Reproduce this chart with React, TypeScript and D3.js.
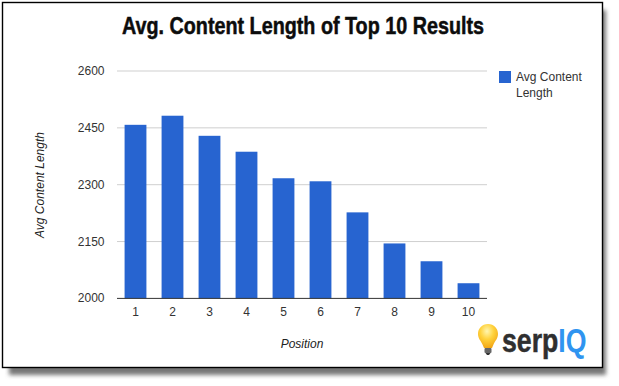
import React from "react";
import * as d3 from "d3";

const positions = ["1", "2", "3", "4", "5", "6", "7", "8", "9", "10"];
const avgContentLength = [2458, 2482, 2429, 2387, 2317, 2309, 2227, 2145, 2098, 2040];
const yTicks = [2000, 2150, 2300, 2450, 2600];
const titleText = "Avg. Content Length of Top 10 Results";
const legendLines = ["Avg Content", "Length"];

const W = 619;
const H = 386;
const BLUE = "#2764d0";
const SANS = "Arial, 'Liberation Sans', Helvetica, sans-serif";
const NARROW = "'Liberation Sans Narrow', 'Liberation Sans', sans-serif";

export default function App() {
  const x = d3.scaleBand<string>().domain(positions).range([117, 487]).paddingInner(0.41).paddingOuter(0.205);
  const y = d3.scaleLinear().domain([2000, 2600]).range([298.4, 71]);

  return (
    <svg width={W} height={H} viewBox={`0 0 ${W} ${H}`} style={{ position: "absolute", left: 0, top: 0, background: "#fff" }}>
      <defs>
        <filter id="sh" x="-5%" y="-5%" width="110%" height="110%">
          <feGaussianBlur stdDeviation="2.2" />
        </filter>
        <radialGradient id="bulb" cx="0.45" cy="0.3" r="0.75">
          <stop offset="0" stopColor="#fff6b0" />
          <stop offset="0.45" stopColor="#ffd23c" />
          <stop offset="1" stopColor="#f0a010" />
        </radialGradient>
      </defs>

      <rect x={9} y={10} width={597} height={365} fill="#777" filter="url(#sh)" />
      <rect x={2.5} y={2.5} width={600} height={365} fill="#fff" stroke="#000" strokeWidth={1.4} />

      <text x={303} y={33.5} textAnchor="middle" fontFamily={NARROW} fontWeight={700} fontSize={24} fill="#0c0c0c" stroke="#0c0c0c" strokeWidth={0.5} textLength={362} lengthAdjust="spacingAndGlyphs">
        {titleText}
      </text>

      {yTicks.filter((t) => t !== 2000).map((t) => (
        <line key={t} x1={117} x2={487} y1={y(t)} y2={y(t)} stroke="#cfcfcf" strokeWidth={1} />
      ))}
      {yTicks.map((t) => (
        <text key={t} x={104.5} y={y(t) + 4} textAnchor="end" fontFamily={SANS} fontSize={12} fill="#333">
          {t}
        </text>
      ))}

      {positions.map((p, i) => (
        <rect key={p} x={x(p)} y={y(avgContentLength[i])} width={x.bandwidth()} height={y(2000) - y(avgContentLength[i])} fill={BLUE} />
      ))}
      <line x1={117} x2={487} y1={y(2000)} y2={y(2000)} stroke="#333" strokeWidth={1} />

      {positions.map((p) => (
        <text key={p} x={(x(p) as number) + x.bandwidth() / 2} y={316} textAnchor="middle" fontFamily={SANS} fontSize={12} fill="#333">
          {p}
        </text>
      ))}

      <text x={302} y={348} textAnchor="middle" fontFamily={SANS} fontSize={12} fontStyle="italic" fill="#222">
        Position
      </text>
      <text transform="translate(44,185) rotate(-90)" textAnchor="middle" fontFamily={SANS} fontSize={12} fontStyle="italic" fill="#222">
        Avg Content Length
      </text>

      <rect x={499} y={71} width={12} height={12} fill={BLUE} />
      {legendLines.map((l, i) => (
        <text key={l} x={516} y={81 + i * 16} fontFamily={SANS} fontSize={12} fill="#333">
          {l}
        </text>
      ))}

      <g>
        <path d="M488 324 C482 324 478 328.5 478 334 C478 338.5 481 341 482.5 344.5 L484 348 L492 348 L493.5 344.5 C495 341 498 338.5 498 334 C498 328.5 494 324 488 324 Z" fill="url(#bulb)" />
        <rect x={484.5} y={348} width={7} height={5} rx={1} fill="#666" />
        <path d="M485.5 353 h5 l-1.5 2 h-2 Z" fill="#333" />
        <text x={502} y={351.5} fontFamily={NARROW} fontWeight={700} fontSize={33} textLength={84.5} lengthAdjust="spacingAndGlyphs">
          <tspan fill="#2f2f2f" stroke="#2f2f2f" strokeWidth={0.5}>serp</tspan>
          <tspan fill="#2f94f0">IQ</tspan>
        </text>
      </g>
    </svg>
  );
}
